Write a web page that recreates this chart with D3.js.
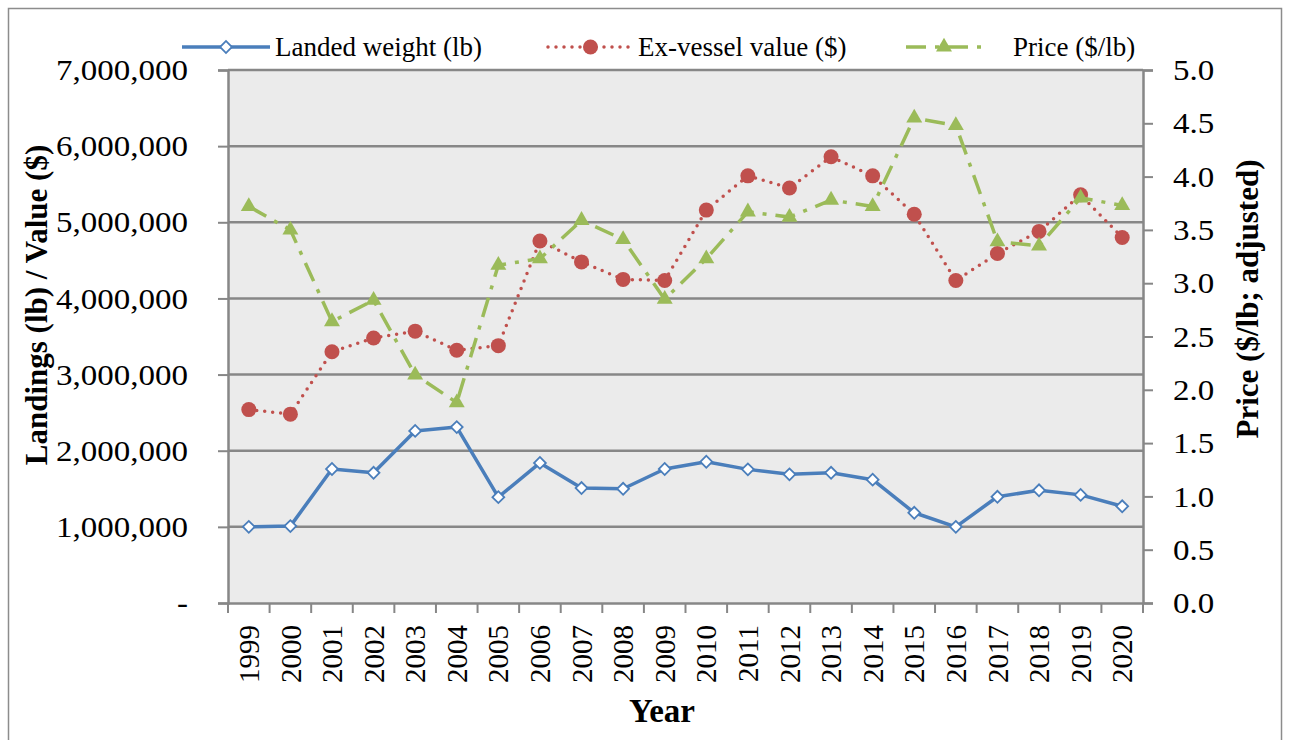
<!DOCTYPE html>
<html>
<head>
<meta charset="utf-8">
<script src="https://cdn.jsdelivr.net/npm/d3@7"></script>
<style>
	body { margin: 0; background: #fff; }
	svg text { font-family: 'Liberation Serif', 'Times New Roman', serif; fill: #000; }
</style>
</head>
<body>
<svg id="chart" width="1289" height="740"></svg>
<script>
var years = ['1999', '2000', '2001', '2002', '2003', '2004', '2005', '2006', '2007', '2008', '2009',
	'2010', '2011', '2012', '2013', '2014', '2015', '2016', '2017', '2018', '2019', '2020'];

var landedWeight = [1000000, 1010000, 1760000, 1710000, 2260000, 2310000, 1390000, 1840000, 1510000, 1500000, 1760000,
	1855000, 1755000, 1690000, 1710000, 1620000, 1185000, 1000000, 1395000, 1480000, 1420000, 1270000];

var exVesselValue = [2540000, 2480000, 3300000, 3480000, 3570000, 3320000, 3380000, 4755000, 4480000, 4250000, 4235000,
	5160000, 5610000, 5450000, 5860000, 5610000, 5105000, 4235000, 4590000, 4880000, 5360000, 4800000];

var price = [3.72, 3.50, 2.64, 2.84, 2.14, 1.88, 3.17, 3.23, 3.59, 3.41, 2.85,
	3.23, 3.67, 3.62, 3.78, 3.72, 4.55, 4.48, 3.39, 3.35, 3.80, 3.73];

var leftTicks = [0, 1000000, 2000000, 3000000, 4000000, 5000000, 6000000, 7000000];
var rightTicks = [0, 0.5, 1, 1.5, 2, 2.5, 3, 3.5, 4, 4.5, 5];

var svg = d3.select('#chart'),
	margin = { top: 70, right: 146, bottom: 137, left: 228 },
	width = +svg.attr('width') - margin.left - margin.right,
	height = +svg.attr('height') - margin.top - margin.bottom;

// the source picture is a bit wider than plain Times, stretch text to match
function stretch(sel, k) {
	sel.each(function () {
		var len = this.getComputedTextLength();
		d3.select(this).attr('textLength', len * k).attr('lengthAdjust', 'spacingAndGlyphs');
	});
}

// outer frame
svg.append('rect')
	.attr('x', 8.5).attr('y', 8.5)
	.attr('width', 1273).attr('height', 740)
	.attr('fill', 'none').attr('stroke', '#8c8c8c').attr('stroke-width', 1.5);

var g = svg.append('g').attr('transform', 'translate(' + margin.left + ',' + margin.top + ')');

var scaleX = d3.scaleBand().domain(years).range([0, width]);
var scaleY = d3.scaleLinear().domain([0, 7000000]).range([height, 0]);
var scaleY2 = d3.scaleLinear().domain([0, 5]).range([height, 0]);

var cx = function (d, i) { return scaleX(years[i]) + scaleX.bandwidth() / 2; };

g.append('rect')
	.attr('width', width).attr('height', height)
	.attr('fill', '#ebebeb');

// gridlines
g.append('g').selectAll('line')
	.data(leftTicks.slice(1))
	.enter().append('line')
	.attr('x1', 0).attr('x2', width)
	.attr('y1', function (d) { return scaleY(d); })
	.attr('y2', function (d) { return scaleY(d); })
	.attr('stroke', '#878787').attr('stroke-width', 2.5);

var axisColor = '#878787';

// left axis
var yAxis = g.append('g')
	.call(d3.axisLeft(scaleY).tickValues(leftTicks).tickSize(10).tickPadding(30)
		.tickFormat(function (d) { return d === 0 ? '-' : d3.format(',')(d); }));

// right axis
var yAxis2 = g.append('g')
	.attr('transform', 'translate(' + width + ',0)')
	.call(d3.axisRight(scaleY2).tickValues(rightTicks).tickSize(10).tickPadding(20)
		.tickFormat(d3.format('.1f')));

// x axis
var xAxis = g.append('g')
	.attr('transform', 'translate(0,' + height + ')')
	.call(d3.axisBottom(scaleX).tickSize(0).tickSizeOuter(0));
xAxis.append('g').selectAll('line')
	.data(years.concat(['end']))
	.enter().append('line')
	.attr('x1', function (d, i) { return i * scaleX.step(); })
	.attr('x2', function (d, i) { return i * scaleX.step(); })
	.attr('y1', 0).attr('y2', 10)
	.attr('stroke', axisColor).attr('stroke-width', 2);

[yAxis, yAxis2, xAxis].forEach(function (a) {
	a.selectAll('.domain').attr('stroke', axisColor).attr('stroke-width', 2.5);
	a.selectAll('.tick line').attr('stroke', axisColor).attr('stroke-width', 2);
	a.selectAll('text').attr('fill', '#000').attr('font-family', "'Liberation Serif', serif");
});

yAxis.selectAll('text').attr('font-size', 30).call(stretch, 1.1);
yAxis2.selectAll('text').attr('font-size', 30).call(stretch, 1.1);
xAxis.selectAll('text')
	.attr('font-size', 29)
	.attr('transform', 'rotate(-90)')
	.attr('text-anchor', 'end')
	.attr('x', -22).attr('y', 0).attr('dy', '0.35em');

// axis titles
svg.append('text')
	.attr('transform', 'translate(47,305) rotate(-90)')
	.attr('text-anchor', 'middle')
	.attr('font-size', 31).attr('font-weight', 'bold')
	.text('Landings (lb) / Value ($)');

svg.append('text')
	.attr('transform', 'translate(1258,299) rotate(-90)')
	.attr('text-anchor', 'middle')
	.attr('font-size', 31).attr('font-weight', 'bold')
	.text('Price ($/lb; adjusted)');

svg.append('text')
	.attr('x', 662).attr('y', 722)
	.attr('text-anchor', 'middle')
	.attr('font-size', 33).attr('font-weight', 'bold')
	.text('Year');

// series
var blue = '#4a7ebb', red = '#c0504d', green = '#9bbb59';

var lineL = d3.line().x(cx).y(function (d) { return scaleY(d); });
var lineR = d3.line().x(cx).y(function (d) { return scaleY2(d); });

var triangle = d3.symbol().type(d3.symbolTriangle).size(110);
var diamond = d3.symbol().type(d3.symbolSquare).size(70);

g.append('path')
	.datum(landedWeight)
	.attr('d', lineL)
	.attr('fill', 'none').attr('stroke', blue).attr('stroke-width', 3.5)
	.attr('stroke-linejoin', 'round');
g.append('g').selectAll('path')
	.data(landedWeight)
	.enter().append('path')
	.attr('d', diamond)
	.attr('transform', function (d, i) { return 'translate(' + cx(d, i) + ',' + scaleY(d) + ') rotate(45)'; })
	.attr('fill', '#fff').attr('stroke', blue).attr('stroke-width', 1.8);

g.append('path')
	.datum(exVesselValue)
	.attr('d', lineL)
	.attr('fill', 'none').attr('stroke', red).attr('stroke-width', 3.5)
	.attr('stroke-linecap', 'round').attr('stroke-dasharray', '0,8');
g.append('g').selectAll('circle')
	.data(exVesselValue)
	.enter().append('circle')
	.attr('cx', cx).attr('cy', function (d) { return scaleY(d); })
	.attr('r', 7.5)
	.attr('fill', red);

g.append('path')
	.datum(price)
	.attr('d', lineR)
	.attr('fill', 'none').attr('stroke', green).attr('stroke-width', 3.5)
	.attr('stroke-dasharray', '20,9,4,9');
g.append('g').selectAll('path')
	.data(price)
	.enter().append('path')
	.attr('d', triangle)
	.attr('transform', function (d, i) { return 'translate(' + cx(d, i) + ',' + scaleY2(d) + ')'; })
	.attr('fill', green);

// legend
var legend = svg.append('g').attr('transform', 'translate(0,47)');
var items = [
	{ label: 'Landed weight (lb)', x1: 182, x2: 270, color: blue, kind: 'diamond', tx: 275 },
	{ label: 'Ex-vessel value ($)', x1: 548, x2: 633, color: red, kind: 'circle', tx: 638 },
	{ label: 'Price ($/lb)', x1: 898, x2: 990, color: green, kind: 'triangle', tx: 1013 }
];
items.forEach(function (it) {
	var l = legend.append('line')
		.attr('x1', it.x1).attr('x2', it.x2)
		.attr('stroke', it.color).attr('stroke-width', 3.5);
	var mx = (it.x1 + it.x2) / 2;
	if (it.kind === 'diamond') {
		legend.append('path').attr('d', diamond).attr('transform', 'translate(' + mx + ',0) rotate(45)')
			.attr('fill', '#fff').attr('stroke', blue).attr('stroke-width', 1.8);
	} else if (it.kind === 'circle') {
		l.attr('stroke-linecap', 'round').attr('stroke-dasharray', '0,8');
		legend.append('circle').attr('cx', mx).attr('r', 7.5).attr('fill', red);
	} else {
		l.attr('stroke-dasharray', '20,9,4,9').attr('x1', it.x1 + 8);
		legend.append('path').attr('d', triangle).attr('transform', 'translate(' + mx + ',0)')
			.attr('fill', green);
	}
	legend.append('text')
		.attr('x', it.tx).attr('dy', '0.35em')
		.attr('font-size', 27)
		.text(it.label);
});
</script>
</body>
</html>
